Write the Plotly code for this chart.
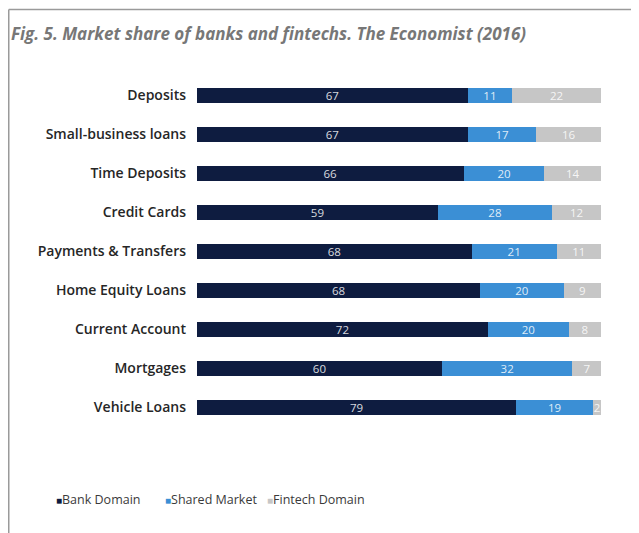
import plotly.graph_objects as go

categories = [
    "Deposits",
    "Small-business loans",
    "Time Deposits",
    "Credit Cards",
    "Payments & Transfers",
    "Home Equity Loans",
    "Current Account",
    "Mortgages",
    "Vehicle Loans",
]
bank_domain = [67, 67, 66, 59, 68, 68, 72, 60, 79]
shared_market = [11, 17, 20, 28, 21, 20, 20, 32, 19]
fintech_domain = [22, 16, 14, 12, 11, 9, 8, 7, 2]

series = [
    ("Bank Domain", bank_domain, "#0e1c40"),
    ("Shared Market", shared_market, "#3b8fd5"),
    ("Fintech Domain", fintech_domain, "#c6c6c6"),
]

# the page body has an 8px margin, so the figure is 8px smaller than the window
W, H = 631, 525
ML, MR, MT, MB = 189, 38, 67.5, 105.5
PW, PH = W - ML - MR, H - MT - MB


def px_x(p):
    return (p - ML) / PW


def px_y(p):
    return (H - MB - p) / PH


fig = go.Figure()
for name, vals, color in series:
    fig.add_trace(go.Bar(
        y=categories, x=vals, name=name, orientation="h",
        marker=dict(color=color, line=dict(width=0)),
        text=vals, textposition="inside", insidetextanchor="middle",
        textfont=dict(color="rgba(255,255,255,0.85)", size=11.5, family="Open Sans"),
        textangle=0, showlegend=False,
    ))

# frame lines (left and top)
fig.add_shape(type="line", xref="paper", yref="paper",
              x0=px_x(0.75), x1=px_x(W + 2), y0=px_y(0.75), y1=px_y(0.75),
              line=dict(color="#9a9a9a", width=1.5))
fig.add_shape(type="line", xref="paper", yref="paper",
              x0=px_x(0.75), x1=px_x(0.75), y0=px_y(0.75), y1=px_y(H + 2),
              line=dict(color="#9a9a9a", width=1.5))

fig.add_annotation(
    text="<b><i>Fig. 5. Market share of banks and fintechs. The Economist (2016)</i></b>",
    xref="paper", yref="paper", x=px_x(1), y=px_y(25),
    xanchor="left", yanchor="middle", showarrow=False,
    font=dict(family="Open Sans", size=17, color="#777777"),
)

# legend drawn as text with small coloured squares
legend_x = [46, 155, 257]
for (name, _, color), lx in zip(series, legend_x):
    fig.add_annotation(
        text=f'<span style="color:{color};font-size:10px">■</span>{name}',
        xref="paper", yref="paper", x=px_x(lx), y=px_y(492),
        xanchor="left", yanchor="middle", showarrow=False,
        font=dict(family="Open Sans", size=12.5, color="#3a3a3a"),
    )

fig.update_layout(
    width=W, height=H,
    margin=dict(l=ML, r=MR, t=MT, b=MB),
    barmode="stack", barnorm="percent", bargap=0.62,
    paper_bgcolor="white", plot_bgcolor="white",
    uniformtext=dict(minsize=8, mode="show"),
    showlegend=False,
    xaxis=dict(range=[0, 100], visible=False),
    yaxis=dict(
        autorange="reversed", showgrid=False, zeroline=False, showline=False,
        ticks="", ticklabelstandoff=10,
        tickfont=dict(family="Open Sans", size=14, color="#262626", weight=600),
    ),
)

fig.write_html("out.html")
